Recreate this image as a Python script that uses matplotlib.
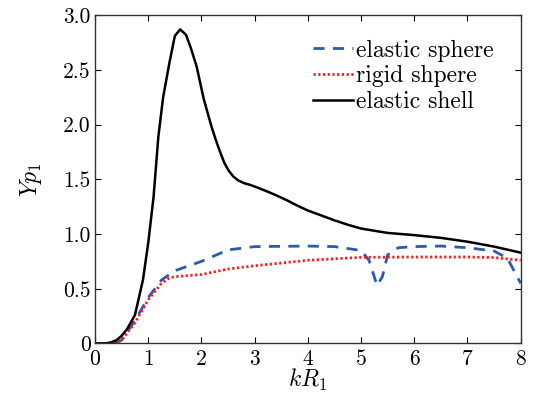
import numpy as np
import matplotlib
matplotlib.use("Agg")
import matplotlib.pyplot as plt

plt.rcParams['font.family'] = 'serif'
plt.rcParams['font.serif'] = ['cmr10', 'DejaVu Serif']
plt.rcParams['mathtext.fontset'] = 'cm'
plt.rcParams['axes.unicode_minus'] = False

# elastic shell
x_shell = [0, 0.2, 0.3, 0.4, 0.5, 0.6, 0.75, 0.9, 1.0, 1.1, 1.19, 1.28, 1.40, 1.5, 1.6, 1.71,
           1.8, 1.91, 2.04, 2.12, 2.19, 2.27, 2.35, 2.43, 2.51, 2.6, 2.69, 2.8, 2.91, 3.05, 3.23,
           3.4, 3.6, 3.8, 4.0, 4.25, 4.5, 4.75, 5.0, 5.5, 6.0, 6.5, 7.0, 7.5, 8.0]
y_shell = [0, 0.0, 0.01, 0.03, 0.07, 0.13, 0.26, 0.58, 0.92, 1.34, 1.89, 2.25, 2.57, 2.81, 2.87, 2.82,
           2.70, 2.53, 2.24, 2.10, 1.98, 1.86, 1.75, 1.65, 1.58, 1.525, 1.49, 1.465, 1.45, 1.425, 1.39,
           1.355, 1.31, 1.26, 1.215, 1.17, 1.125, 1.085, 1.05, 1.01, 0.99, 0.965, 0.93, 0.885, 0.83]

# elastic sphere
x_sphere = [0, 0.3, 0.4, 0.5, 0.75, 1.0, 1.25, 1.5, 2.0, 2.5, 3.0, 4.0, 4.5, 5.0, 5.15, 5.3, 5.4,
            5.5, 5.7, 6.0, 6.5, 7.0, 7.5, 7.75, 8.0]
y_sphere = [0, 0.0, 0.01, 0.03, 0.21, 0.42, 0.58, 0.665, 0.75, 0.855, 0.885, 0.89, 0.885, 0.85, 0.76,
            0.53, 0.61, 0.81, 0.875, 0.885, 0.89, 0.875, 0.845, 0.78, 0.55]

# rigid sphere
x_rigid = [0, 0.3, 0.4, 0.5, 0.75, 1.0, 1.25, 1.4, 1.5, 2.0, 2.5, 3.0, 4.0, 5.0, 6.0, 7.0, 7.5, 8.0]
y_rigid = [0, 0.0, 0.01, 0.03, 0.19, 0.40, 0.55, 0.6, 0.61, 0.63, 0.68, 0.71, 0.76, 0.787, 0.79, 0.79, 0.785, 0.76]

labels = ['elastic sphere', 'rigid shpere', 'elastic shell']
xticks = [0, 1, 2, 3, 4, 5, 6, 7, 8]
yticks = [0, 0.5, 1.0, 1.5, 2.0, 2.5, 3.0]
ytick_labels = ['0', '0.5', '1.0', '1.5', '2.0', '2.5', '3.0']

fig = plt.figure(figsize=(5.34, 3.98), dpi=100)
ax = fig.add_axes([0.178, 0.137, 0.797, 0.825])

ax.plot(x_sphere, y_sphere, color='#2a5caa', lw=2.0, ls=(0, (4, 3)), label=labels[0])
ax.plot(x_rigid, y_rigid, color='#ff1a1a', lw=2.0, ls=(0, (0.8, 0.9)), label=labels[1])
ax.plot(x_shell, y_shell, color='black', lw=1.8, label=labels[2])

ax.set_xlim(0, 8)
ax.set_ylim(0, 3.0)
ax.set_xticks(xticks)
ax.set_xticklabels([str(t) for t in xticks])
ax.set_yticks(yticks)
ax.set_yticklabels(ytick_labels)
ax.tick_params(direction='in', top=True, right=True, labelsize=15.5, length=4, width=0.8)
ax.tick_params(axis='x', pad=4)
ax.tick_params(axis='y', pad=3)
for s in ax.spines.values():
    s.set_linewidth(1.0)
    s.set_color('#333333')

ax.set_xlabel('$kR_1$', fontsize=17, labelpad=-1)
ax.set_ylabel('$Yp_1$', fontsize=17, labelpad=14)

leg = ax.legend(loc='upper left', bbox_to_anchor=(0.50, 0.94), frameon=False, fontsize=17,
                handlelength=1.7, handletextpad=0.15, labelspacing=0.15, borderaxespad=0.0,
                borderpad=0.2)

fig.savefig('out.png', dpi=100)
